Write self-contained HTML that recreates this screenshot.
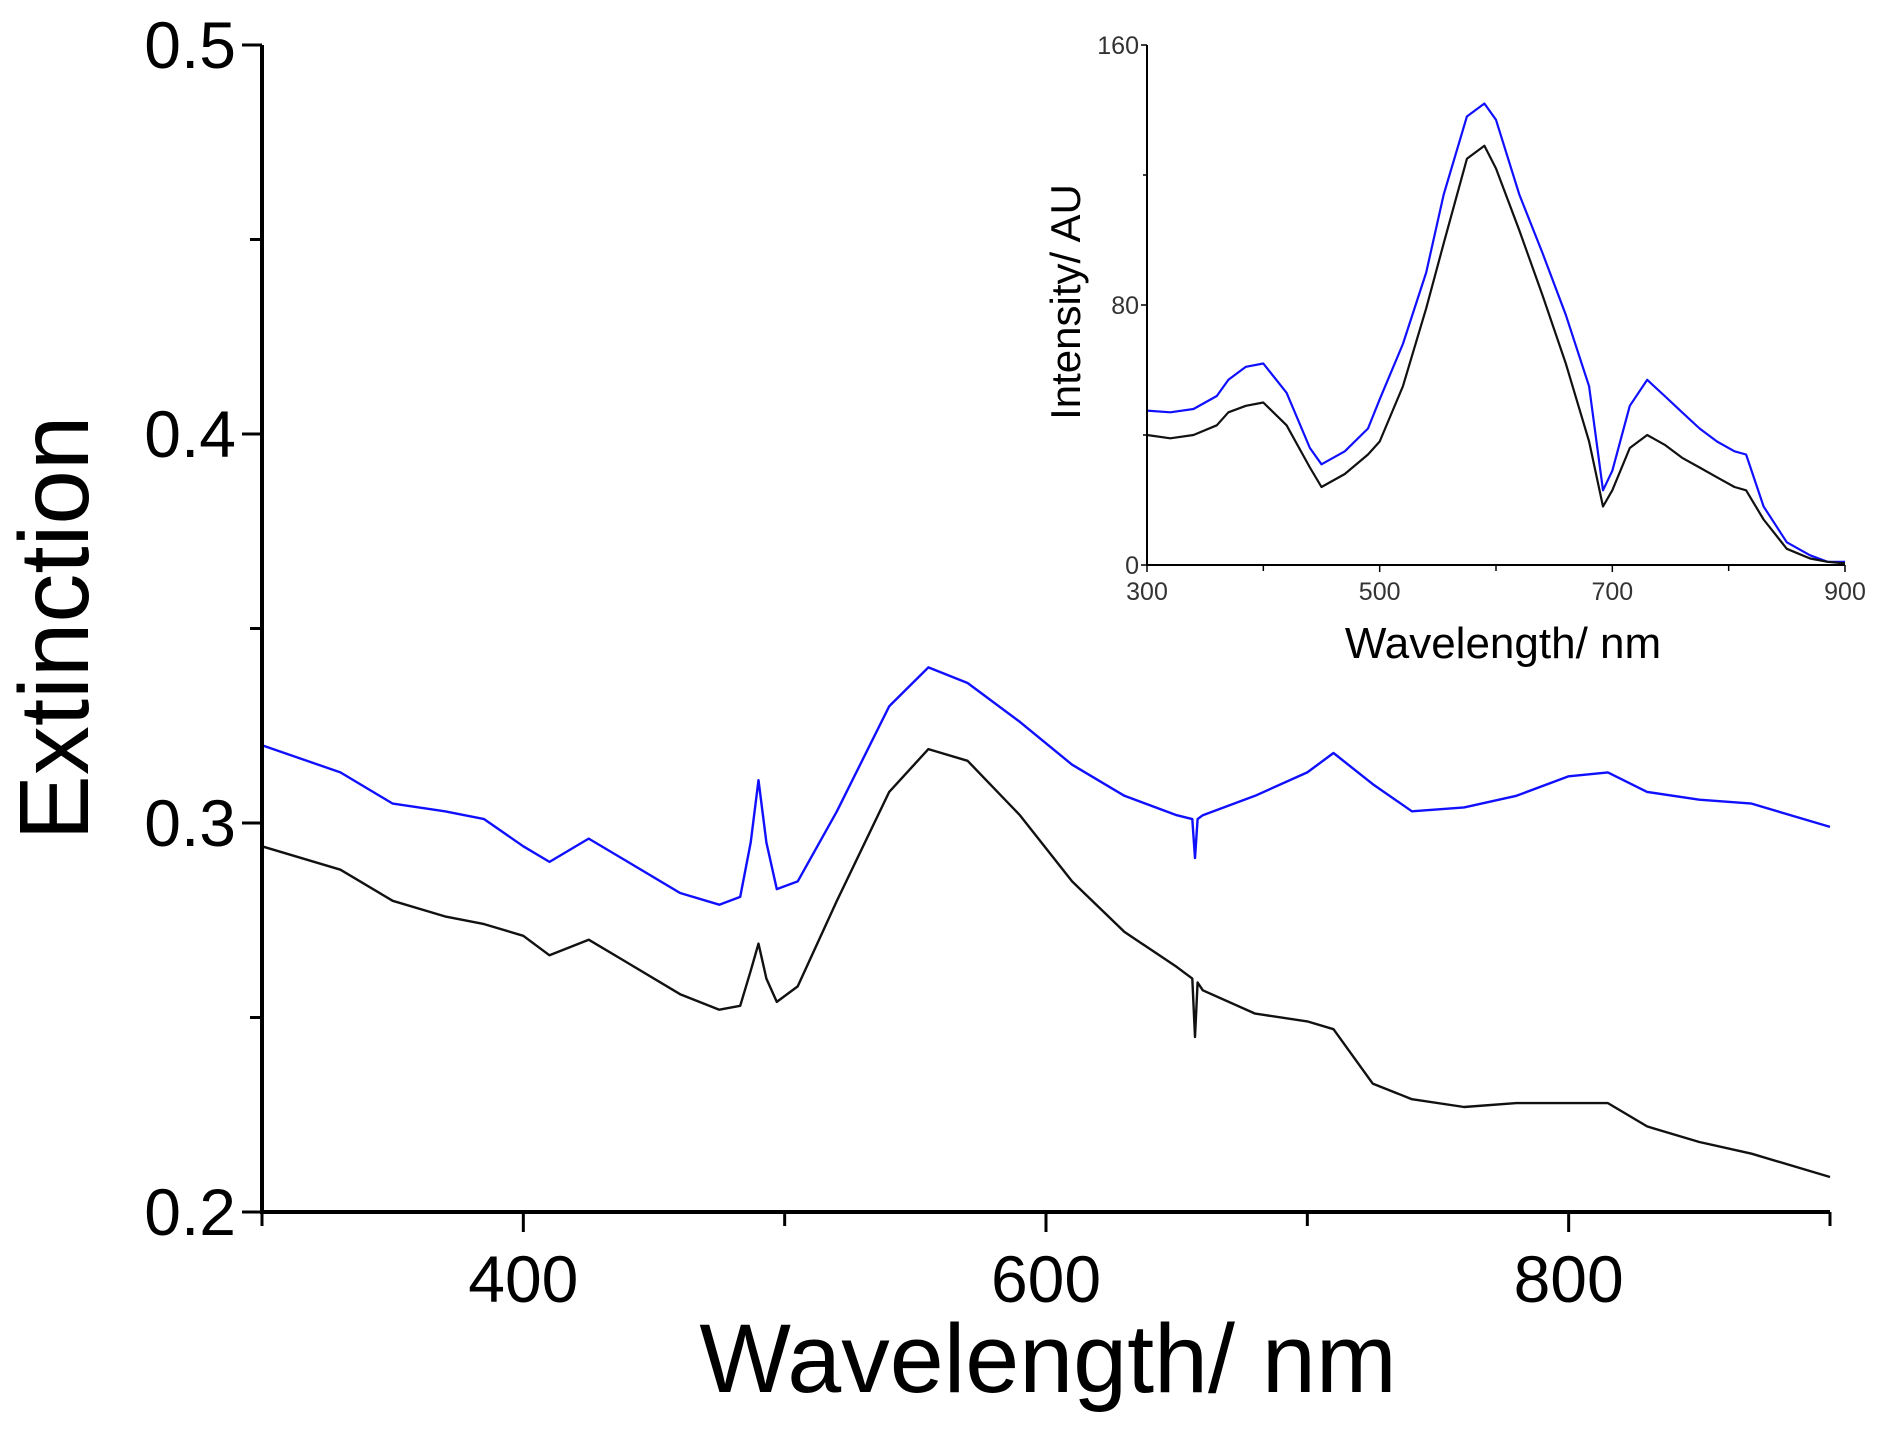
<!DOCTYPE html>
<html><head><meta charset="utf-8"><style>
html,body{margin:0;padding:0;background:#fff;}
svg{display:block;font-family:"Liberation Sans",Arial,sans-serif;}
</style></head><body>
<svg id="chart" width="1883" height="1431" viewBox="0 0 1883 1431">
<rect width="1883" height="1431" fill="#fff"/>
<g id="main"></g>
<g id="inset"></g>
</svg>
<script>
// Main chart data
const mainWl = [300,330,350,370,385,400,410,425,440,460,475,483,487,490,493,497,505,520,540,555,570,590,610,630,650,656,657,658,660,680,700,710,725,740,760,780,800,815,830,850,870,900];
const mainBlue = [0.320,0.313,0.305,0.303,0.301,0.294,0.290,0.296,0.290,0.282,0.279,0.281,0.295,0.311,0.295,0.283,0.285,0.303,0.330,0.340,0.336,0.326,0.315,0.307,0.302,0.301,0.291,0.301,0.302,0.307,0.313,0.318,0.310,0.303,0.304,0.307,0.312,0.313,0.308,0.306,0.305,0.299];
const mainBlack = [0.294,0.288,0.280,0.276,0.274,0.271,0.266,0.270,0.264,0.256,0.252,0.253,0.262,0.269,0.260,0.254,0.258,0.280,0.308,0.319,0.316,0.302,0.285,0.272,0.263,0.260,0.245,0.259,0.257,0.251,0.249,0.247,0.233,0.229,0.227,0.228,0.228,0.228,0.222,0.218,0.215,0.209];
const mainXTicks = [400,600,800];
const mainXMinor = [300,500,700,900];
const mainYTicks = [0.2,0.3,0.4,0.5];
const mainYMinor = [0.25,0.35,0.45];
// Inset data
const insetWl = [300,320,340,360,370,385,400,420,440,450,470,490,500,520,540,555,575,590,600,620,640,660,680,692,700,715,730,745,760,775,790,805,815,830,850,870,885,900];
const insetBlue = [47.5,47,48,52,57,61,62,53,36,31,35,42,51,68,90,114,138,142,137,114,96,77,55,23,29,49,57,52,47,42,38,35,34,18,7,3,1,1];
const insetBlack = [40,39,40,43,47,49,50,43,30,24,28,34,38,55,79,99,125,129,122,103,83,62,38,18,23,36,40,37,33,30,27,24,23,14,5,2,1,0.5];
const insetXTicks = [300,500,700,900];
const insetXMinor = [400,600,800];
const insetYTicks = [0,80,160];
const insetYMinor = [40,120];

const NS="http://www.w3.org/2000/svg";
function mk(parent,tag,attrs,text){const e=document.createElementNS(NS,tag);for(const k in attrs)e.setAttribute(k,attrs[k]);if(text!==undefined)e.textContent=text;parent.appendChild(e);return e;}

const mx=v=>262+(v-300)*(1830-262)/600;
const my=v=>1212-(v-0.2)*(1212-45)/0.3;
const gm=document.getElementById('main');
function line(parent,xs,ys,col,name,w){
  const d=xs.map((x,i)=>(i?'L':'M')+x.toFixed(1)+' '+ys[i].toFixed(1)).join(' ');
  const p=mk(parent,'path',{d:d,fill:'none',stroke:col,'stroke-width':w,'stroke-linejoin':'round'});
  
  
}
line(gm,mainWl.map(mx),mainBlue.map(my),'#1010ff','blue-series',2.4);
line(gm,mainWl.map(mx),mainBlack.map(my),'#111','black-series',2.4);
let a=mk(gm,'path',{d:`M262 45 L262 1212 L1830 1212`,fill:'none',stroke:'#000','stroke-width':4});


mainXTicks.forEach(v=>{
  mk(gm,'line',{x1:mx(v),x2:mx(v),y1:1212,y2:1232,stroke:'#000','stroke-width':3});
  const t=mk(gm,'text',{x:mx(v),y:1302,'font-size':66,'text-anchor':'middle'},v);
  
  
});
mainXMinor.forEach(v=>mk(gm,'line',{x1:mx(v),x2:mx(v),y1:1212,y2:1226,stroke:'#000','stroke-width':3}));
mainYTicks.forEach(v=>{
  mk(gm,'line',{x1:242,x2:262,y1:my(v),y2:my(v),stroke:'#000','stroke-width':3});
  const t=mk(gm,'text',{x:236,y:my(v)+23,'font-size':66,'text-anchor':'end'},v.toFixed(1));
  
  
});
mainYMinor.forEach(v=>mk(gm,'line',{x1:250,x2:262,y1:my(v),y2:my(v),stroke:'#000','stroke-width':3}));
let t=mk(gm,'text',{x:88,y:628,'font-size':98,'text-anchor':'middle',transform:'rotate(-90 88 628)'},'Extinction');


t=mk(gm,'text',{x:1048,y:1392,'font-size':97,'text-anchor':'middle'},'Wavelength/ nm');



// inset axes
const ix=v=>1147+(v-300)*(1845-1147)/600;
const iy=v=>565-v*(565-45)/160;
const gi=document.getElementById('inset');
line(gi,insetWl.map(ix),insetBlue.map(iy),'#1010ff','inset-blue-series',2.2);
line(gi,insetWl.map(ix),insetBlack.map(iy),'#111','inset-black-series',2.2);
a=mk(gi,'path',{d:`M1147 45 L1147 565 L1845 565`,fill:'none',stroke:'#000','stroke-width':2});


insetXTicks.forEach(v=>{
  mk(gi,'line',{x1:ix(v),x2:ix(v),y1:565,y2:572,stroke:'#000','stroke-width':1.5});
  const t=mk(gi,'text',{x:ix(v),y:600,'font-size':25,'text-anchor':'middle','fill':'#333'},v);
  
  
});
insetXMinor.forEach(v=>mk(gi,'line',{x1:ix(v),x2:ix(v),y1:565,y2:571,stroke:'#000','stroke-width':1.5}));
insetYTicks.forEach(v=>{
  mk(gi,'line',{x1:1141,x2:1147,y1:iy(v),y2:iy(v),stroke:'#000','stroke-width':1.5});
  const t=mk(gi,'text',{x:1139,y:iy(v)+9,'font-size':25,'text-anchor':'end','fill':'#333'},v);
  
  
});
insetYMinor.forEach(v=>mk(gi,'line',{x1:1143,x2:1147,y1:iy(v),y2:iy(v),stroke:'#000','stroke-width':1.5}));
t=mk(gi,'text',{x:1080,y:302,'font-size':42,'text-anchor':'middle',transform:'rotate(-90 1080 302)'},'Intensity/ AU');


t=mk(gi,'text',{x:1503,y:658,'font-size':44,'text-anchor':'middle'},'Wavelength/ nm');


</script>
</body></html>
